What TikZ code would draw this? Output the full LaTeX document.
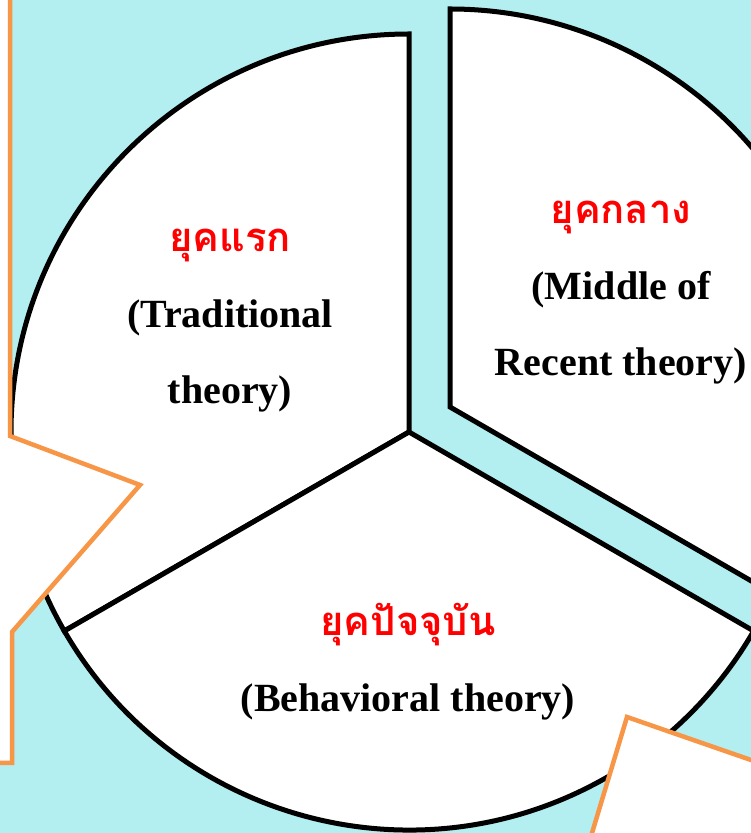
\documentclass[tikz,border=0pt]{standalone}
\usepackage{fontspec}
\usepackage{xcolor}
\usepackage{tikz}
\setmainfont{Liberation Serif}
\newfontfamily\thaifont[Script=Thai]{Loma}
\definecolor{pieback}{HTML}{B3EEF1}
\definecolor{pieorange}{HTML}{F79646}
\definecolor{erared}{HTML}{FF0000}
\newcommand{\eraname}[1]{{\thaifont\fontsize{40}{76}\selectfont\color{erared}#1}}

\begin{document}
\begin{tikzpicture}[x=1pt,y=1pt,
  slice/.style={draw=black,fill=white,line width=5pt},
  tab/.style={draw=pieorange,fill=white,line width=4.5pt},
  era/.style={align=center,inner sep=0pt,font=\bfseries\fontsize{40}{76}\selectfont}]
\useasboundingbox (0,0) rectangle (751,833);
\clip (0,0) rectangle (751,833);
\fill[pieback] (0,0) rectangle (751,833);
\coordinate (c) at (409,401);
\coordinate (e) at (450,426);
\draw[slice] (c) -- ++(90:398) arc[start angle=90,end angle=210,radius=398] -- cycle;
\draw[slice] (c) -- ++(210:398) arc[start angle=210,end angle=330,radius=398] -- cycle;
\draw[slice] (e) -- ++(-30:398) arc[start angle=-30,end angle=90,radius=398] -- cycle;
\draw[tab] (10,850) -- (10,397) -- (140,348) -- (12,201) -- (12,70) -- (-10,70) -- (-10,850) -- cycle;
\draw[tab] (627,116) -- (800,56) -- (800,-20) -- (586,-20) -- cycle;
\node[era] (first) at (230,512) {\eraname{ยุคแรก}\\(Traditional\\theory)};
\node[era] (middle) at (621,540) {\eraname{ยุคกลาง}\\(Middle of\\Recent theory)};
\node[era] (present) at (408,171) {\eraname{ยุคปัจจุบัน}\\(Behavioral theory)};
\end{tikzpicture}
\end{document}
